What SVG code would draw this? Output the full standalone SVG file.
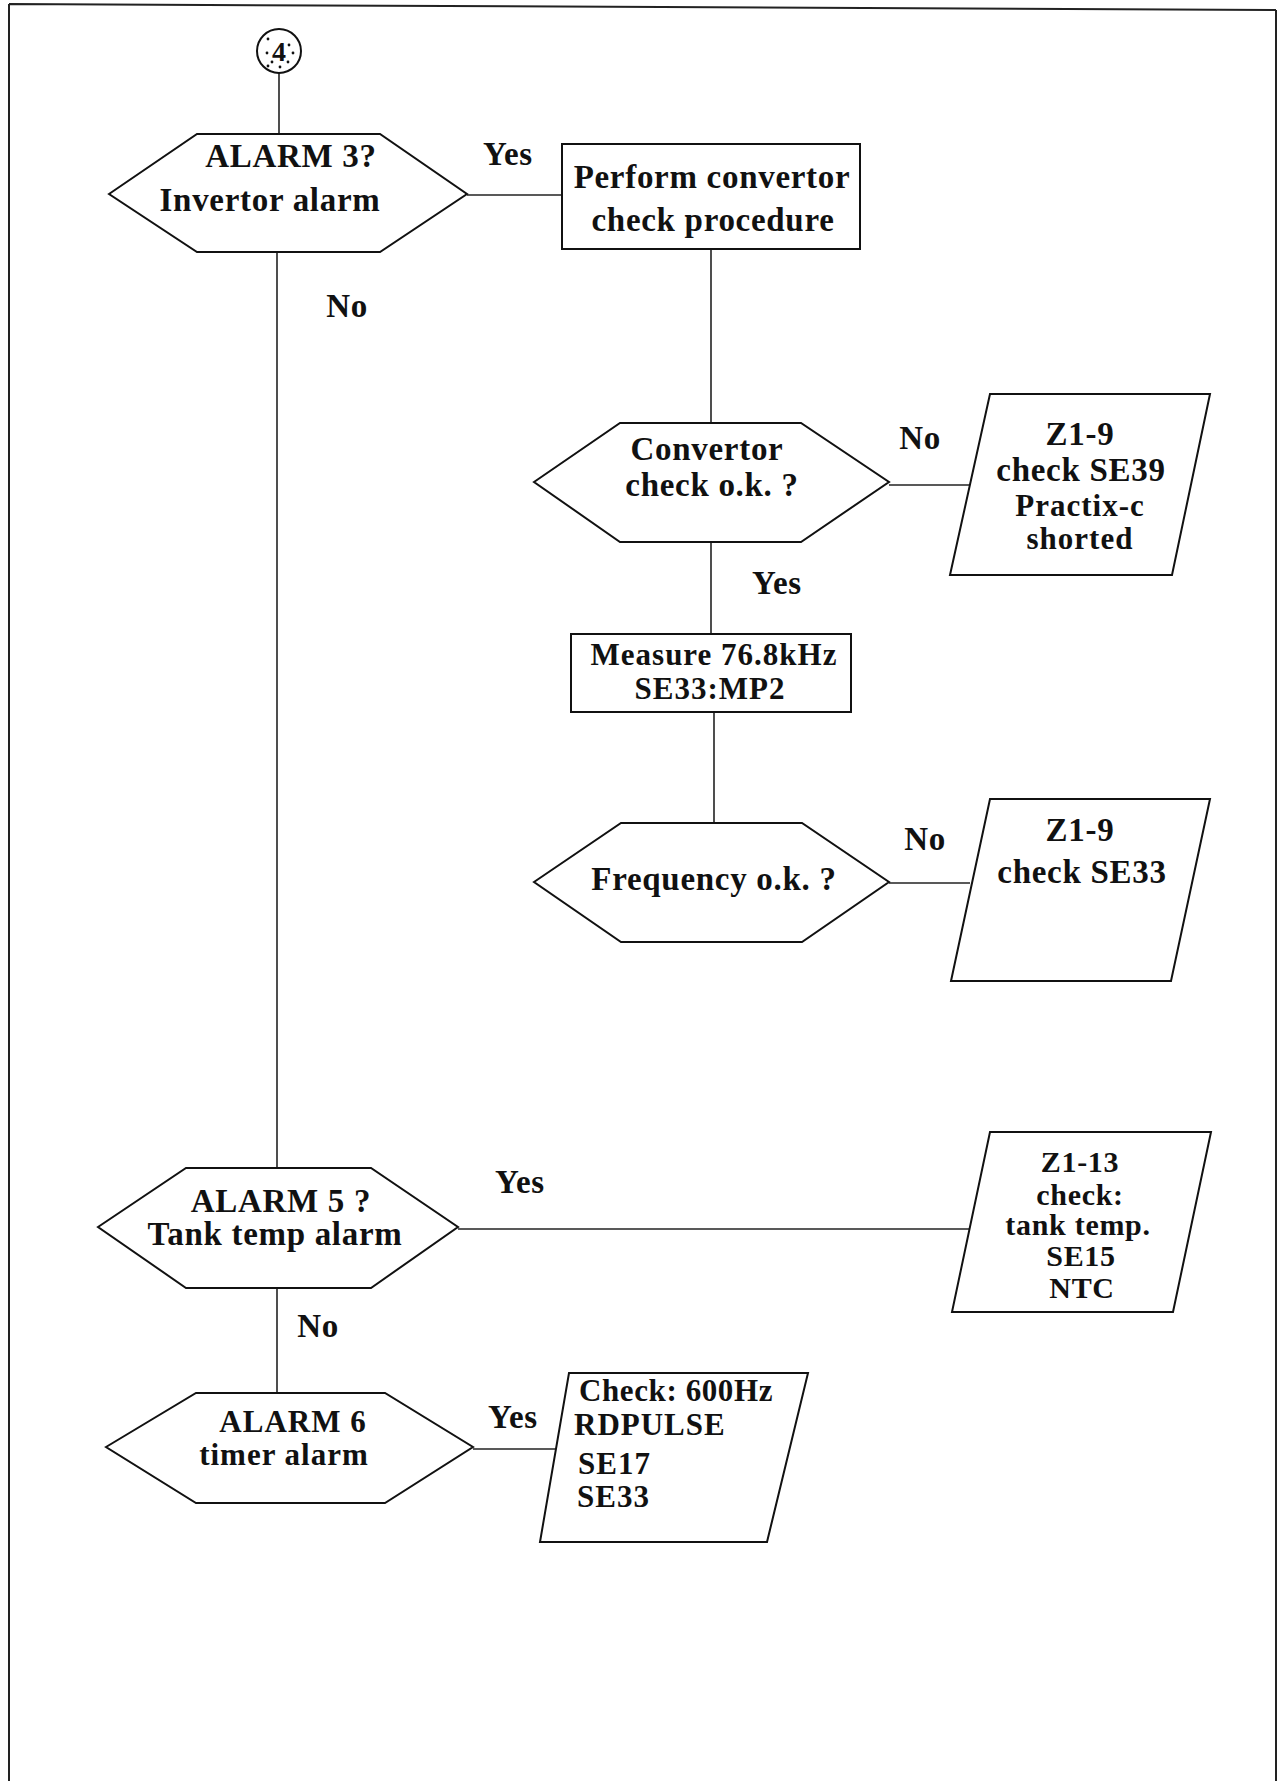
<svg xmlns="http://www.w3.org/2000/svg" width="1282" height="1781" viewBox="0 0 1282 1781">
<style>
.s{fill:#fff;stroke:#111;stroke-width:2}
.c{fill:none;stroke:#222;stroke-width:1.6}
.t{font-family:"Liberation Serif","Times New Roman",serif;font-weight:bold;font-size:33px;fill:#111;text-anchor:middle;letter-spacing:0.7px}
.n{font-size:30px}
.m{font-size:31px;letter-spacing:1px}
.f{fill:none;stroke:#222;stroke-width:2}
</style>
<rect width="1282" height="1781" fill="#fff"/>
<g id="frame">
<path class="f" d="M9,4 L1276,10 M9,4 L9,1781 M1276,10 L1276,1781"/>
</g>
<g id="connectors">
<path class="c" d="M279,72 V134"/>
<path class="c" d="M277,252 V1168"/>
<path class="c" d="M467,195 H562"/>
<path class="c" d="M711,249 V423"/>
<path class="c" d="M889,485 H970"/>
<path class="c" d="M711,542 V634"/>
<path class="c" d="M714,712 V823"/>
<path class="c" d="M889,883 H970"/>
<path class="c" d="M458,1229 H970"/>
<path class="c" d="M277,1288 V1393"/>
<path class="c" d="M473,1449 H560"/>
</g>
<g id="labels">
<text class="t" x="508" y="165">Yes</text>
<text class="t" x="347" y="317">No</text>
<text class="t" x="920" y="449">No</text>
<text class="t" x="777" y="594">Yes</text>
<text class="t" x="925" y="850">No</text>
<text class="t" x="520" y="1193">Yes</text>
<text class="t" x="318" y="1337">No</text>
<text class="t" x="513" y="1428">Yes</text>
</g>
<g id="start4">
<circle class="s" cx="279" cy="51" r="22"/>
<text class="t" x="279" y="61" style="font-size:28px;letter-spacing:0">4</text>
<g fill="#111">
<circle cx="268" cy="39" r="1.4"/><circle cx="289" cy="45" r="1.4"/><circle cx="267" cy="53" r="1.4"/><circle cx="293" cy="53" r="1.4"/><circle cx="272" cy="62" r="1.4"/><circle cx="288" cy="62" r="1.4"/><circle cx="280" cy="67" r="1.4"/><circle cx="268" cy="66" r="1.4"/>
</g>
</g>
<g id="alarm3">
<polygon class="s" points="109,194 197,134 380,134 467,194 380,252 197,252"/>
<text class="t" x="291" y="167">ALARM 3?</text>
<text class="t" x="270" y="211">Invertor alarm</text>
</g>
<g id="perform">
<rect class="s" x="562" y="144" width="298" height="105"/>
<text class="t" x="712" y="188">Perform convertor</text>
<text class="t" x="713" y="231">check procedure</text>
</g>
<g id="convcheck">
<polygon class="s" points="534,482 620,423 801,423 889,482 801,542 620,542"/>
<text class="t" x="707" y="460">Convertor</text>
<text class="t" x="712" y="496">check o.k. ?</text>
</g>
<g id="z19a">
<polygon class="s" points="990,394 1210,394 1172,575 950,575"/>
<text class="t" x="1080" y="445">Z1-9</text>
<text class="t" x="1081" y="481">check SE39</text>
<text class="t m" x="1080" y="516">Practix-c</text>
<text class="t m" x="1080" y="549">shorted</text>
</g>
<g id="measure">
<rect class="s" x="571" y="634" width="280" height="78"/>
<text class="t m" x="714" y="665">Measure 76.8kHz</text>
<text class="t m" x="710" y="699">SE33:MP2</text>
</g>
<g id="freq">
<polygon class="s" points="534,882 621,823 802,823 889,882 802,942 621,942"/>
<text class="t" x="714" y="890">Frequency o.k. ?</text>
</g>
<g id="z19b">
<polygon class="s" points="990,799 1210,799 1171,981 951,981"/>
<text class="t" x="1080" y="841">Z1-9</text>
<text class="t" x="1082" y="883">check SE33</text>
</g>
<g id="alarm5">
<polygon class="s" points="98,1227 186,1168 371,1168 458,1227 371,1288 186,1288"/>
<text class="t" x="281" y="1212">ALARM 5 ?</text>
<text class="t" x="275" y="1245">Tank temp alarm</text>
</g>
<g id="z113">
<polygon class="s" points="990,1132 1211,1132 1173,1312 952,1312"/>
<text class="t n" x="1080" y="1172">Z1-13</text>
<text class="t n" x="1080" y="1205">check:</text>
<text class="t n" x="1078" y="1235">tank temp.</text>
<text class="t n" x="1081" y="1266">SE15</text>
<text class="t n" x="1082" y="1298">NTC</text>
</g>
<g id="alarm6">
<polygon class="s" points="106,1447 196,1393 385,1393 473,1447 385,1503 196,1503"/>
<text class="t m" x="293" y="1432">ALARM 6</text>
<text class="t m" x="284" y="1465">timer alarm</text>
</g>
<g id="check600">
<polygon class="s" points="569,1373 808,1373 767,1542 540,1542"/>
<text class="t m" x="579" y="1401" style="text-anchor:start;letter-spacing:0.6px">Check: 600Hz</text>
<text class="t m" x="574" y="1435" style="text-anchor:start">RDPULSE</text>
<text class="t m" x="578" y="1474" style="text-anchor:start">SE17</text>
<text class="t m" x="577" y="1507" style="text-anchor:start">SE33</text>
</g>
</svg>
